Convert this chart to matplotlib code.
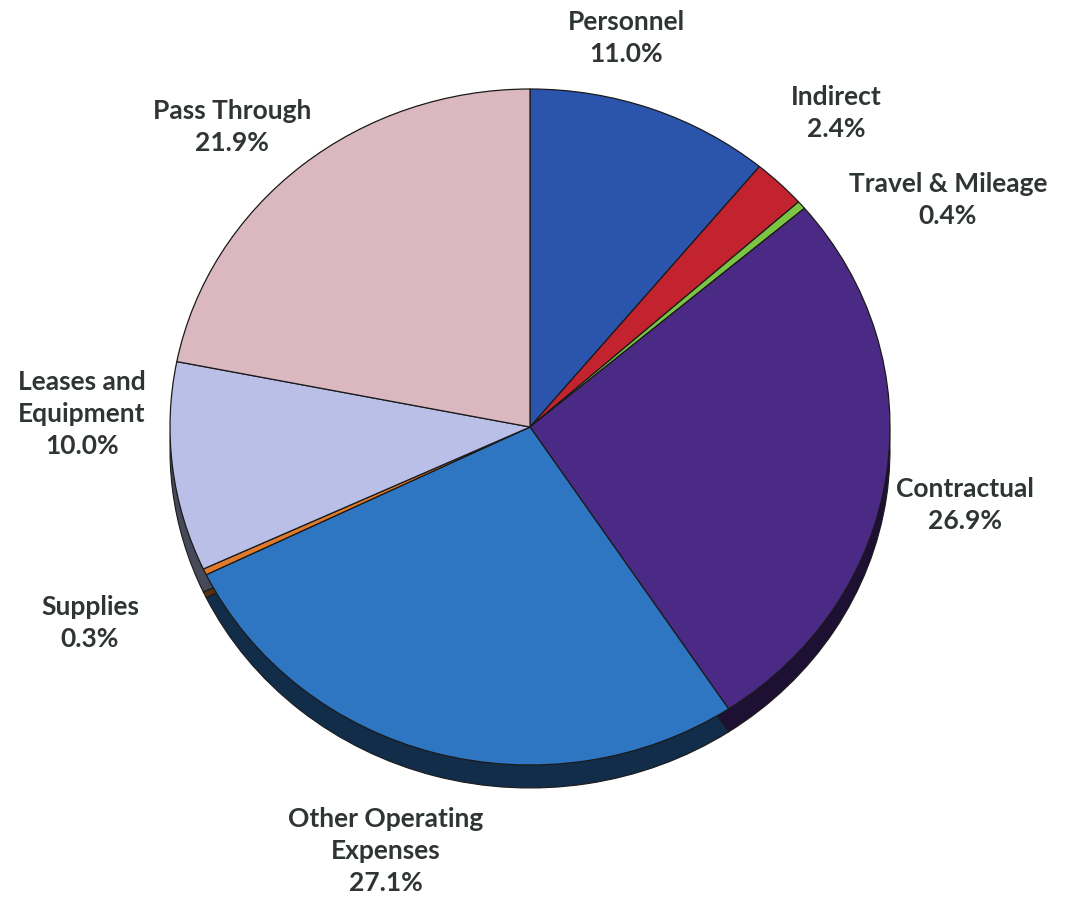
import matplotlib
matplotlib.use("Agg")
import matplotlib.pyplot as plt
import numpy as np
from matplotlib.colors import to_rgb

categories = ["Personnel", "Indirect", "Travel & Mileage", "Contractual",
              "Other Operating\nExpenses", "Supplies", "Leases and\nEquipment", "Pass Through"]
values = [11.0, 2.4, 0.4, 26.9, 27.1, 0.3, 10.0, 21.9]
colors = ["#2b55ad", "#c3232f", "#7cc443", "#4b2a86", "#2f76c2", "#e07b2b", "#b9bfe6", "#dbb7bf"]

# label centres in pixels (x from left, y from top)
label_pos = [(626, 38), (836, 113), (948, 200), (965, 505),
             (386, 851), (90, 623), (82, 414), (232, 127)]

W, H = 1065, 906
fig = plt.figure(figsize=(W / 100, H / 100), dpi=100)
ax = fig.add_axes([0, 0, 1, 1])

cx, cy, rx, ry = 530, 427, 360, 338
depth = 0.068

def darken(c, f):
    r, g, b = to_rgb(c)
    return (r * f, g * f, b * f)

shadow_cols = [darken(c, 0.38) for c in colors]
ax.pie(values, colors=shadow_cols, startangle=90, counterclock=False,
       center=(0, -depth), radius=1.0,
       wedgeprops=dict(edgecolor="#1a1a1a", linewidth=0.8))
ax.pie(values, colors=colors, startangle=90, counterclock=False,
       center=(0, 0), radius=1.0,
       wedgeprops=dict(edgecolor="#1a1a1a", linewidth=0.9))

ax.set_aspect("auto")
ax.set_xlim(-cx / rx, (W - cx) / rx)
ax.set_ylim(-(H - cy) / ry, cy / ry)
ax.axis("off")

for cat, v, (px, py) in zip(categories, values, label_pos):
    fig.text(px / W, 1 - py / H, f"{cat}\n{v:.1f}%", ha="center", va="center",
             fontsize=19, family="Lato", fontweight="bold", color="#2e3532",
             linespacing=1.42)

fig.savefig("out.png", dpi=100, facecolor="white")
